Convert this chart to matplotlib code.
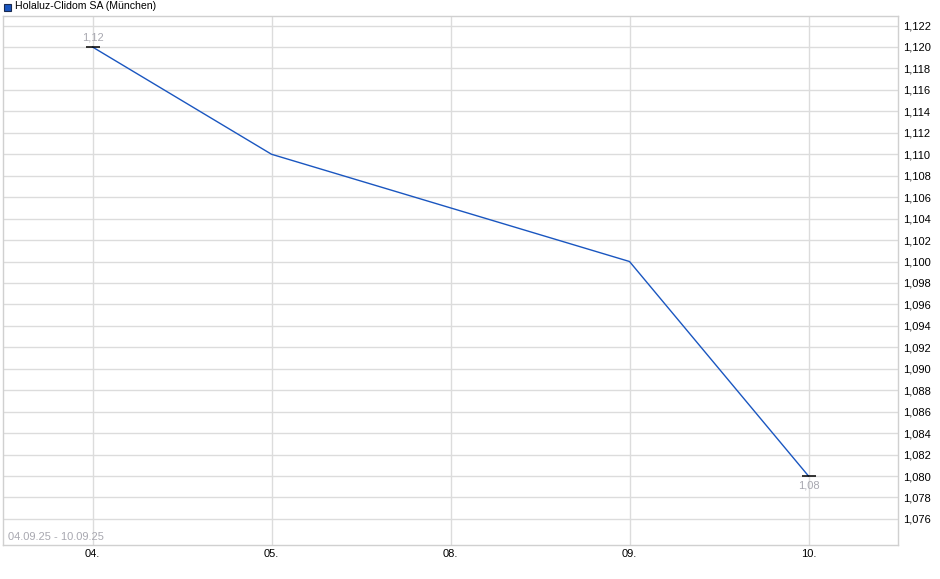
import numpy as np
import matplotlib.pyplot as plt
from matplotlib.patches import Rectangle

# Data
dates = ['04.', '05.', '08.', '09.', '10.']
prices = [1.12, 1.11, 1.105, 1.10, 1.08]
yticks = np.round(np.arange(1.076, 1.1221, 0.002), 3)
title = 'Holaluz-Clidom SA (München)'
period = '04.09.25 - 10.09.25'

plt.rcParams['font.family'] = ['Liberation Sans', 'DejaVu Sans']

fig = plt.figure(figsize=(9.4, 5.79), dpi=100)
ax = fig.add_axes([3 / 940, 34 / 579, 895 / 940, 529 / 579])

x = np.arange(len(dates))
ax.plot(x, prices, color='#1a56c0', lw=1.0, zorder=3)

# small black marks at first and last point
ax.plot([x[0], x[-1]], [prices[0], prices[-1]], ls='none', marker='_',
        markersize=10, markeredgewidth=1.1, color='black', zorder=4)
ax.annotate('1,12', (x[0], prices[0]), xytext=(0, 3), textcoords='offset points',
            ha='center', va='bottom', fontsize=8, color='#a8a8b0')
ax.annotate('1,08', (x[-1], prices[-1]), xytext=(0, -3), textcoords='offset points',
            ha='center', va='top', fontsize=8, color='#a8a8b0')

ax.set_xlim(-0.5, 4.5)
ax.set_ylim(1.07357, 1.12289)
ax.set_xticks(x)
ax.set_xticklabels(dates, fontsize=8)
ax.set_yticks(yticks)
ax.set_yticklabels([f'{v:.3f}'.replace('.', ',') for v in yticks], fontsize=8)
ax.yaxis.tick_right()
ax.tick_params(axis='both', length=0, colors='black')
ax.tick_params(axis='y', pad=4)
ax.tick_params(axis='x', pad=3)

ax.grid(True, color='#dcdcdc', lw=1)
ax.set_axisbelow(True)
for s in ax.spines.values():
    s.set_color('#d0d0d0')
    s.set_linewidth(1)

ax.text(0.006, 0.006, period, transform=ax.transAxes, fontsize=8,
        color='#a8a8b0', ha='left', va='bottom')

# legend-like header
fig.patches.append(Rectangle((4 / 940, 1 - 11 / 579), 7 / 940, 7 / 579,
                             transform=fig.transFigure, facecolor='#1a56c0',
                             edgecolor='#1a2a50', lw=0.8))
fig.text(15 / 940, 1 - 6 / 579, title, fontsize=7.6, ha='left', va='center')

fig.savefig('out.png', dpi=100)
